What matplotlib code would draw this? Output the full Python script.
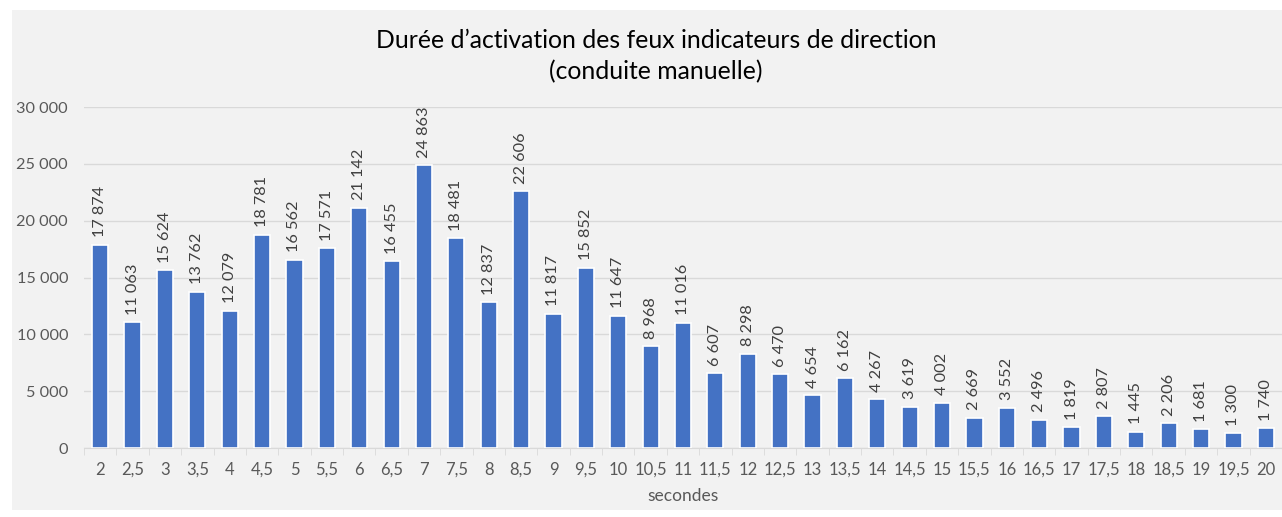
import matplotlib.pyplot as plt
import numpy as np
from matplotlib.patches import Rectangle
from matplotlib.ticker import FuncFormatter

plt.rcParams['font.family'] = ['Lato', 'DejaVu Sans']

categories = ['2', '2,5', '3', '3,5', '4', '4,5', '5', '5,5', '6', '6,5', '7', '7,5',
              '8', '8,5', '9', '9,5', '10', '10,5', '11', '11,5', '12', '12,5', '13',
              '13,5', '14', '14,5', '15', '15,5', '16', '16,5', '17', '17,5', '18',
              '18,5', '19', '19,5', '20']
values = [17874, 11063, 15624, 13762, 12079, 18781, 16562, 17571, 21142, 16455,
          24863, 18481, 12837, 22606, 11817, 15852, 11647, 8968, 11016, 6607,
          8298, 6470, 4654, 6162, 4267, 3619, 4002, 2669, 3552, 2496, 1819,
          2807, 1445, 2206, 1681, 1300, 1740]
yticks = [0, 5000, 10000, 15000, 20000, 25000, 30000]


def fmt(v):
    return '{:,}'.format(int(v)).replace(',', ' ')


fig = plt.figure(figsize=(12.82, 5.17), dpi=100)
fig.patches.append(Rectangle((12 / 1282, 7 / 517), 1 - 12 / 1282, 1 - 17 / 517,
                             transform=fig.transFigure, facecolor='#f2f2f2',
                             edgecolor='none', zorder=-10))

ax = fig.add_axes([84 / 1282, 69 / 517, 1 - 84 / 1282, 341 / 517])
ax.set_facecolor('none')

x = np.arange(len(categories))
bars = ax.bar(x, values, width=0.5, color='#4472c4', edgecolor='white',
              linewidth=1.2, zorder=3)
for xi, v in zip(x, values):
    ax.text(xi, v + 650, fmt(v), rotation=90, ha='center', va='bottom',
            fontsize=11.7, color='#404040')

ax.set_xlim(-0.5, len(categories) - 0.5)
ax.set_ylim(0, 30000)
ax.set_yticks(yticks)
ax.yaxis.set_major_formatter(FuncFormatter(lambda v, p: fmt(v)))
ax.grid(axis='y', color='#d9d9d9', linewidth=1, zorder=0)

ax.set_xticks(x)
ax.set_xticklabels(categories)
ax.set_xticks(np.arange(-0.5, len(categories), 1), minor=True)
ax.tick_params(axis='x', which='major', length=0, pad=10, labelsize=12,
               labelcolor='#595959')
ax.tick_params(axis='x', which='minor', length=5, color='#d9d9d9')
ax.tick_params(axis='y', length=0, pad=11.5, labelsize=11.7, labelcolor='#595959')

for s in ['top', 'right', 'left']:
    ax.spines[s].set_visible(False)
ax.spines['bottom'].set_color('#d9d9d9')

ax.set_xlabel('secondes', fontsize=12.5, color='#595959', labelpad=7)

fig.text(656 / 1282, 1 - 56 / 517,
         'Durée d\u2019activation des feux indicateurs de direction\n(conduite manuelle)',
         ha='center', va='center', fontsize=17.8, color='black', linespacing=1.4)

fig.savefig('out.png', dpi=100)
